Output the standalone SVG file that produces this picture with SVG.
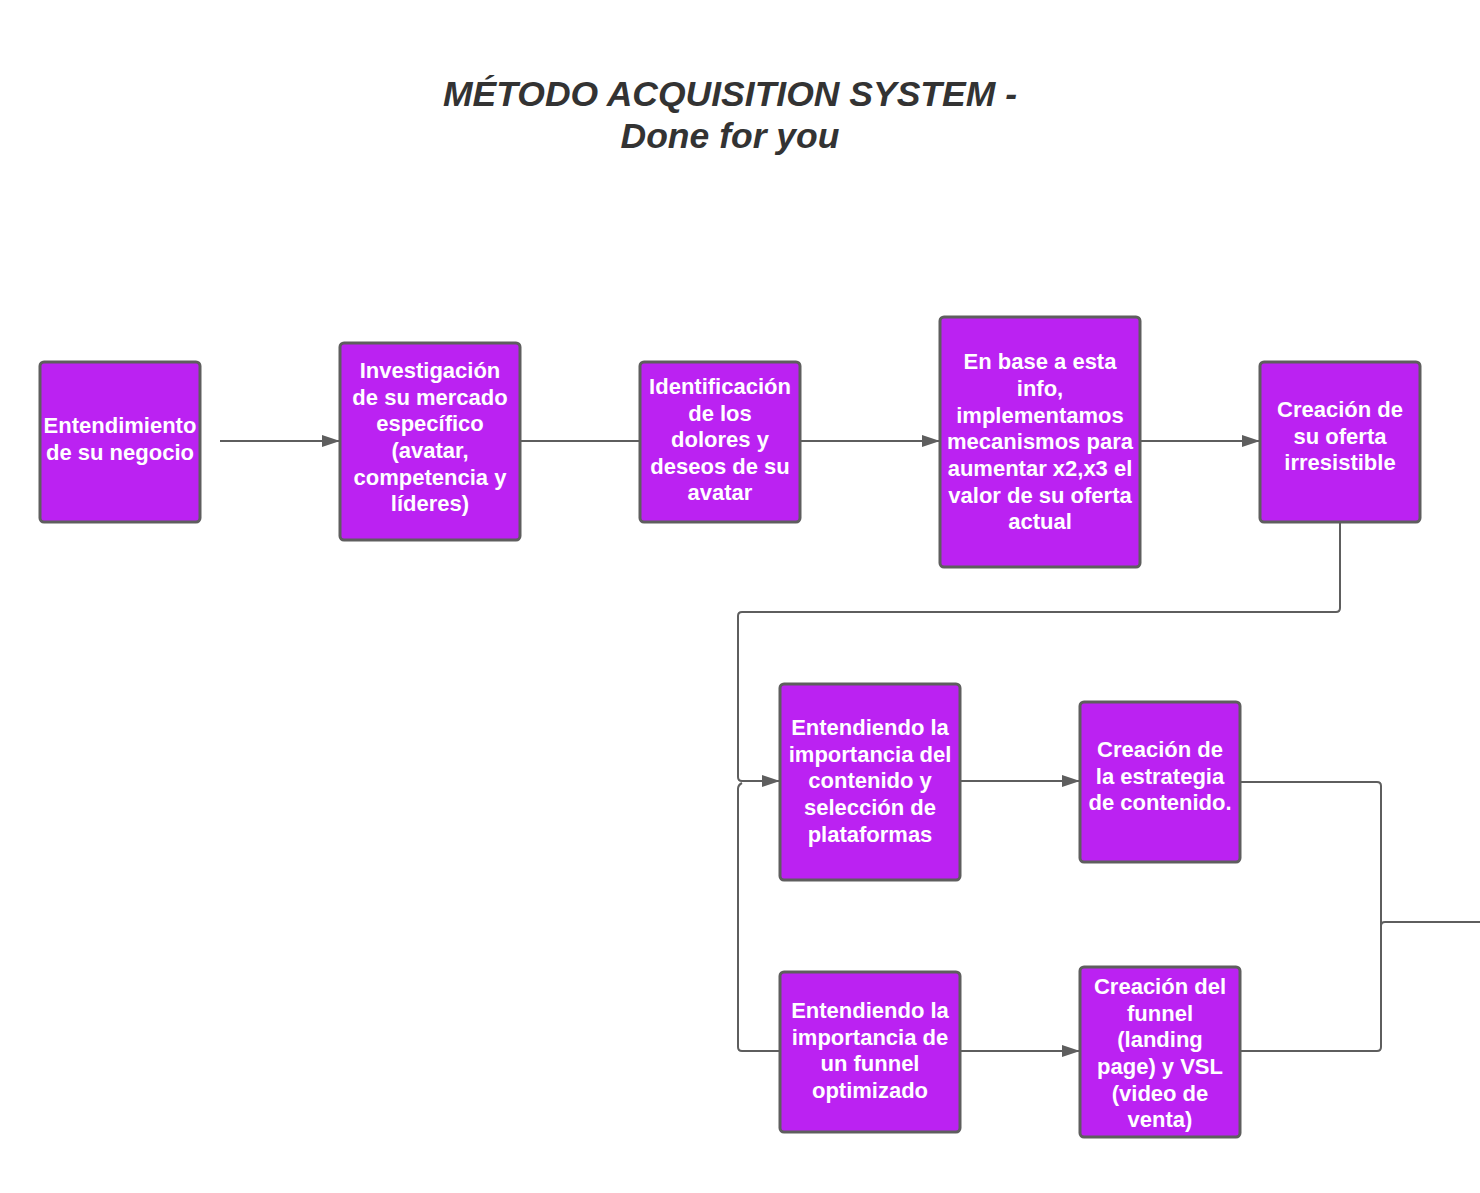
<svg xmlns="http://www.w3.org/2000/svg" width="1480" height="1193" viewBox="0 0 1480 1193">
<style>
.box{fill:#bb22f2;stroke:#5e5e5e;stroke-width:3}
.lbl{font-family:"Liberation Sans",Arial,sans-serif;font-weight:bold;font-size:22px;fill:#ffffff;text-anchor:middle}
.title{font-family:"Liberation Sans",Arial,sans-serif;font-weight:bold;font-style:italic;font-size:35.5px;fill:#333333;text-anchor:middle}
.con{fill:none;stroke:#5e5e5e;stroke-width:2}
</style>
<defs>
<marker id="arr" markerUnits="userSpaceOnUse" markerWidth="18" markerHeight="12" refX="18" refY="6" orient="auto">
<path d="M0,0 L18,6 L0,12 z" fill="#5e5e5e"/>
</marker>
</defs>
<rect width="1480" height="1193" fill="#ffffff"/>
<g id="title">
<text class="title" x="730" y="106">MÉTODO ACQUISITION SYSTEM -</text>
<text class="title" x="730" y="148">Done for you</text>
</g>
<g id="connectors">
<path class="con" d="M220,441 H340" marker-end="url(#arr)"/>
<path class="con" d="M520,441 H640"/>
<path class="con" d="M800,441 H940" marker-end="url(#arr)"/>
<path class="con" d="M1140,441 H1260" marker-end="url(#arr)"/>
<path class="con" d="M1340,522 V608 Q1340,612 1336,612 H742 Q738,612 738,616 V777 Q738,781 742,781 H780" marker-end="url(#arr)"/>
<path class="con" d="M780,1051 H742 Q738,1051 738,1047 V789 Q738,785 742,783"/>
<path class="con" d="M960,781 H1080" marker-end="url(#arr)"/>
<path class="con" d="M960,1051 H1080" marker-end="url(#arr)"/>
<path class="con" d="M1240,782 H1377 Q1381,782 1381,786 V1047 Q1381,1051 1377,1051 H1240"/>
<path class="con" d="M1381,926 Q1381,922 1385,922 H1480"/>
</g>
<g id="n1">
<rect class="box" x="40" y="362" width="160" height="160" rx="4"/>
<text class="lbl" x="120" y="433">Entendimiento</text>
<text class="lbl" x="120" y="460">de su negocio</text>
</g>
<g id="n2">
<rect class="box" x="340" y="343" width="180" height="197" rx="4"/>
<text class="lbl" x="430" y="378">Investigación</text>
<text class="lbl" x="430" y="405">de su mercado</text>
<text class="lbl" x="430" y="431">específico</text>
<text class="lbl" x="430" y="458">(avatar,</text>
<text class="lbl" x="430" y="485">competencia y</text>
<text class="lbl" x="430" y="511">líderes)</text>
</g>
<g id="n3">
<rect class="box" x="640" y="362" width="160" height="160" rx="4"/>
<text class="lbl" x="720" y="394">Identificación</text>
<text class="lbl" x="720" y="421">de los</text>
<text class="lbl" x="720" y="447">dolores y</text>
<text class="lbl" x="720" y="474">deseos de su</text>
<text class="lbl" x="720" y="500">avatar</text>
</g>
<g id="n4">
<rect class="box" x="940" y="317" width="200" height="250" rx="4"/>
<text class="lbl" x="1040" y="369">En base a esta</text>
<text class="lbl" x="1040" y="396">info,</text>
<text class="lbl" x="1040" y="423">implementamos</text>
<text class="lbl" x="1040" y="449">mecanismos para</text>
<text class="lbl" x="1040" y="476">aumentar x2,x3 el</text>
<text class="lbl" x="1040" y="503">valor de su oferta</text>
<text class="lbl" x="1040" y="529">actual</text>
</g>
<g id="n5">
<rect class="box" x="1260" y="362" width="160" height="160" rx="4"/>
<text class="lbl" x="1340" y="417">Creación de</text>
<text class="lbl" x="1340" y="444">su oferta</text>
<text class="lbl" x="1340" y="470">irresistible</text>
</g>
<g id="n6">
<rect class="box" x="780" y="684" width="180" height="196" rx="4"/>
<text class="lbl" x="870" y="735">Entendiendo la</text>
<text class="lbl" x="870" y="762">importancia del</text>
<text class="lbl" x="870" y="788">contenido y</text>
<text class="lbl" x="870" y="815">selección de</text>
<text class="lbl" x="870" y="842">plataformas</text>
</g>
<g id="n7">
<rect class="box" x="1080" y="702" width="160" height="160" rx="4"/>
<text class="lbl" x="1160" y="757">Creación de</text>
<text class="lbl" x="1160" y="784">la estrategia</text>
<text class="lbl" x="1160" y="810">de contenido.</text>
</g>
<g id="n8">
<rect class="box" x="780" y="972" width="180" height="160" rx="4"/>
<text class="lbl" x="870" y="1018">Entendiendo la</text>
<text class="lbl" x="870" y="1045">importancia de</text>
<text class="lbl" x="870" y="1071">un funnel</text>
<text class="lbl" x="870" y="1098">optimizado</text>
</g>
<g id="n9">
<rect class="box" x="1080" y="967" width="160" height="170" rx="4"/>
<text class="lbl" x="1160" y="994">Creación del</text>
<text class="lbl" x="1160" y="1021">funnel</text>
<text class="lbl" x="1160" y="1047">(landing</text>
<text class="lbl" x="1160" y="1074">page) y VSL</text>
<text class="lbl" x="1160" y="1101">(video de</text>
<text class="lbl" x="1160" y="1127">venta)</text>
</g>
</svg>
